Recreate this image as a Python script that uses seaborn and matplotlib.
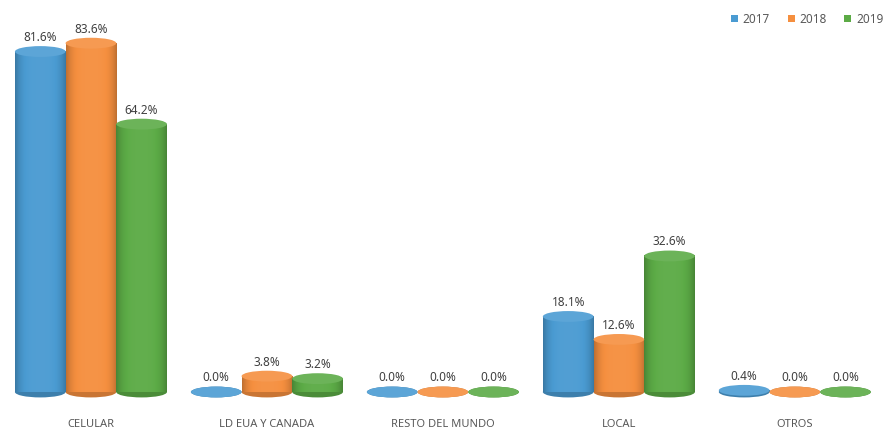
import numpy as np
import pandas as pd
import matplotlib
matplotlib.use("Agg")
import matplotlib.pyplot as plt
import seaborn as sns
from matplotlib.patches import Ellipse
from matplotlib.colors import to_rgb

categories = ["CELULAR", "LD EUA Y CANADA", "RESTO DEL MUNDO", "LOCAL", "OTROS"]
years = ["2017", "2018", "2019"]
values_2017 = [81.6, 0.0, 0.0, 18.1, 0.4]
values_2018 = [83.6, 3.8, 0.0, 12.6, 0.0]
values_2019 = [64.2, 3.2, 0.0, 32.6, 0.0]
colors = ["#4a9bd2", "#f58f3f", "#5cab46"]

df = pd.DataFrame({
    "categoria": categories * 3,
    "anio": [y for y in years for _ in categories],
    "valor": values_2017 + values_2018 + values_2019,
})

sns.set_theme(style="white")
plt.rcParams["font.family"] = ["Noto Sans", "DejaVu Sans"]

fig = plt.figure(figsize=(8.96, 4.36), dpi=100)
ax = fig.add_axes([0.0033, 0.0722, 0.982, 0.890])

sns.barplot(data=df, x="categoria", y="valor", hue="anio", order=categories,
            hue_order=years, palette=colors, width=0.864, gap=0,
            linewidth=0, saturation=1, ax=ax)

ax.set_xlim(-0.5, 4.5)
ax.set_ylim(-3, 90)
cap_h = 2.6  # ellipse height in data units


def shade(rgb, f):
    r = np.array(rgb)
    return tuple(np.clip(r * f, 0, 1)) if f < 1 else tuple(r + (1 - r) * (f - 1))


bars = [p for p in ax.patches if p.get_width() > 0]
for bar in bars:
    x0, w, h = bar.get_x(), bar.get_width(), bar.get_height()
    base = to_rgb(bar.get_facecolor())
    # horizontal gradient for the cylinder body
    t = np.linspace(-1, 1, 64)
    fac = 1.0 - 0.22 * t ** 4 + 0.04 * (1 - t ** 2)
    grad = np.array([[shade(base, f) for f in fac]])
    if h > 0:
        ax.imshow(grad, extent=[x0, x0 + w, 0, h], aspect="auto",
                  interpolation="bilinear", zorder=2)
    ax.add_patch(Ellipse((x0 + w / 2, 0), w, cap_h, facecolor=shade(base, 0.82),
                         edgecolor="none", zorder=1.9))
    ax.add_patch(Ellipse((x0 + w / 2, h), w, cap_h, facecolor=shade(base, 1.1),
                         edgecolor="none", zorder=2.1))
    bar.set_visible(False)
    ax.annotate(f"{h:.1f}%", (x0 + w / 2, h + cap_h / 2), xytext=(0, 1.5),
                textcoords="offset points", ha="center", va="bottom",
                fontsize=8.5, color="#404040", zorder=3)

ax.set_xlabel("")
ax.set_ylabel("")
ax.set_yticks([])
for s in ax.spines.values():
    s.set_visible(False)
ax.tick_params(axis="x", length=0, pad=10.5, labelsize=8, labelcolor="#595959")

handles, labels = ax.get_legend_handles_labels()
ax.legend(handles, labels, loc="upper right", bbox_to_anchor=(0.998, 0.995),
          bbox_transform=fig.transFigure, ncol=3, frameon=False, fontsize=8.5,
          handlelength=0.6, handleheight=0.6, handletextpad=0.4,
          columnspacing=1.5, labelcolor="#595959")

fig.savefig("out.png", dpi=100, facecolor="white")
